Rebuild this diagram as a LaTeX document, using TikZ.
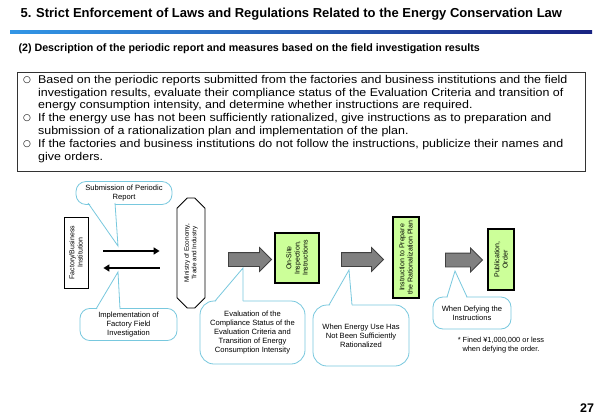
\documentclass[tikz,border=0pt]{standalone}
\usepackage{fontspec}
\setmainfont{Liberation Sans}
\newfontfamily\bodyfont[FakeStretch=1.1]{Liberation Sans}
\newfontfamily\markfont{DejaVu Sans}
\usetikzlibrary{shapes.misc,shapes.arrows,arrows.meta}

\definecolor{calloutblue}{RGB}{120,200,222}
\definecolor{boxgreen}{RGB}{204,255,153}
\definecolor{arrowgray}{RGB}{128,128,128}
\definecolor{barlight}{RGB}{50,150,230}
\definecolor{bardark}{RGB}{25,35,130}

\tikzset{
  itemtext/.style={anchor=north west,align=left,inner sep=0pt,font=\bodyfont\fontsize{11.3}{12.3}\selectfont},
  itemmark/.style={inner sep=0pt,font=\markfont\fontsize{9}{9}\selectfont},
  plainbox/.style={draw,line width=0.8pt,fill=white,inner sep=0pt,rotate=90,align=center,font=\fontsize{7}{8.2}\selectfont},
  flowbox/.style={plainbox,line width=1.2pt,fill=boxgreen},
  talkbox/.style={draw=calloutblue,line width=0.8pt,fill=white,rounded corners=10pt,align=center,font=\fontsize{7.6}{9.2}\selectfont},
  talkline/.style={draw=calloutblue,line width=0.8pt},
  bigarrow/.style={single arrow,single arrow head extend=5pt,draw=black!75,fill=arrowgray,inner xsep=0pt,inner ysep=6.5pt,minimum height=#1,line width=0.8pt},
  blackarrow/.style={line width=1.8pt,-{Triangle[length=6pt,width=7pt]}}
}

\begin{document}
\begin{tikzpicture}[x=1pt,y=-1pt]
\useasboundingbox[fill=white] (0,0) rectangle (600,415);

% Heading
\node[anchor=west,font=\fontsize{13}{15}\bfseries] (title) at (17,14) {5. Strict Enforcement of Laws and Regulations Related to the Energy Conservation Law};
\shade[left color=barlight,right color=bardark] (10,30.5) rectangle (592,33.5);
\node[anchor=west,font=\fontsize{10.7}{12}\bfseries] (subtitle) at (15,49) {(2) Description of the periodic report and measures based on the field investigation results};

% Text box
\draw[black!80,line width=0.8pt] (17,72) rectangle (585,171);
\node[itemmark] (b1) at (27,80.5) {○};
\node[itemtext] (t1) at (38,75.5) {Based on the periodic reports submitted from the factories and business institutions and the field\\investigation results, evaluate their compliance status of the Evaluation Criteria and transition of\\energy consumption intensity, and determine whether instructions are required.};
\node[itemmark] (b2) at (27,118.5) {○};
\node[itemtext] (t2) at (38,113.5) {If the energy use has not been sufficiently rationalized, give instructions as to preparation and\\submission of a rationalization plan and implementation of the plan.};
\node[itemmark] (b3) at (27,144.5) {○};
\node[itemtext] (t3) at (38,139.5) {If the factories and business institutions do not follow the instructions, publicize their names and\\give orders.};

% Boxes (rotated, so south is the right side)
\node[plainbox,minimum width=71pt,minimum height=24pt] (fact) at (76,252.5) {Factory/Business\\Institution};
\node[plainbox,chamfered rectangle,chamfered rectangle xsep=8pt,minimum width=110pt,minimum height=28pt,font=\fontsize{6.4}{7.6}\selectfont] (meti) at (191,253) {Ministry of Economy,\\Trade and Industry};
\node[flowbox,minimum width=50pt,minimum height=44pt] (site) at (297,258) {On-Site\\Inspection,\\Instructions};
\node[flowbox,minimum width=81pt,minimum height=26pt] (plan) at (406,257.5) {Instruction to Prepare\\the Rationalization Plan};
\node[flowbox,minimum width=61pt,minimum height=26pt] (order) at (501,259.5) {Publication,\\Order};

% Report and investigation
\draw[blackarrow,shorten <=15pt,shorten >=17pt] (fact.south |- 0,251) -- (meti.north |- 0,251);
\draw[blackarrow,shorten <=17pt,shorten >=15pt] (meti.north |- 0,268) -- (fact.south |- 0,268);

% Gray arrows
\node[bigarrow=43pt] (arr1) at (246.5,259.5) {};
\node[bigarrow=42pt] (arr2) at (359,259.5) {};
\node[bigarrow=37pt] (arr3) at (460.5,260) {};

% Callout: submission
\node[talkbox,minimum width=96pt,minimum height=20pt] (subm) at (124,193) {Submission of Periodic\\Report};
\coordinate (submtip) at (118,246);
\fill[white] (88.5,202) -- (submtip) -- (115,202) -- cycle;
\draw[talkline] (88,203) -- (submtip) -- (115,203);

% Callout: implementation
\node[talkbox,minimum width=97pt,minimum height=31pt] (impl) at (128.5,324.5) {Implementation of\\Factory Field\\Investigation};
\coordinate (impltip) at (118,272);
\fill[white] (96.5,310) -- (impltip) -- (120,310) -- cycle;
\draw[talkline] (96,309) -- (impltip) -- (120,309);

% Callout: evaluation
\node[talkbox,rounded corners=14pt,minimum width=105pt,minimum height=63pt] (eval) at (252.5,332.5) {Evaluation of the\\Compliance Status of the\\Evaluation Criteria and\\Transition of Energy\\Consumption Intensity};
\coordinate (evaltip) at (243,268);
\fill[white] (215.5,302) -- (evaltip) -- (243,302) -- cycle;
\draw[talkline] (215,301) -- (evaltip) -- (243,301);

% Callout: not rationalized
\node[talkbox,rounded corners=14pt,minimum width=96pt,minimum height=61pt] (ener) at (361,335.5) {When Energy Use Has\\Not Been Sufficiently\\Rationalized};
\coordinate (enertip) at (349,270);
\fill[white] (329.5,306) -- (enertip) -- (352,306) -- cycle;
\draw[talkline] (329,305) -- (enertip) -- (352,305);

% Callout: defying
\node[talkbox,minimum width=78pt,minimum height=32pt] (defy) at (472,313) {When Defying the\\Instructions};
\coordinate (defytip) at (455,271);
\fill[white] (447.5,298) -- (defytip) -- (466.5,298) -- cycle;
\draw[talkline] (447,297) -- (defytip) -- (467,297);

% Note and page number
\node[align=center,font=\fontsize{7.4}{9.5}\selectfont] (fine) at (501,345) {* Fined ¥1,000,000 or less\\when defying the order.};
\node[font=\fontsize{12.5}{13}\bfseries] (page) at (587,408) {27};

\end{tikzpicture}
\end{document}
